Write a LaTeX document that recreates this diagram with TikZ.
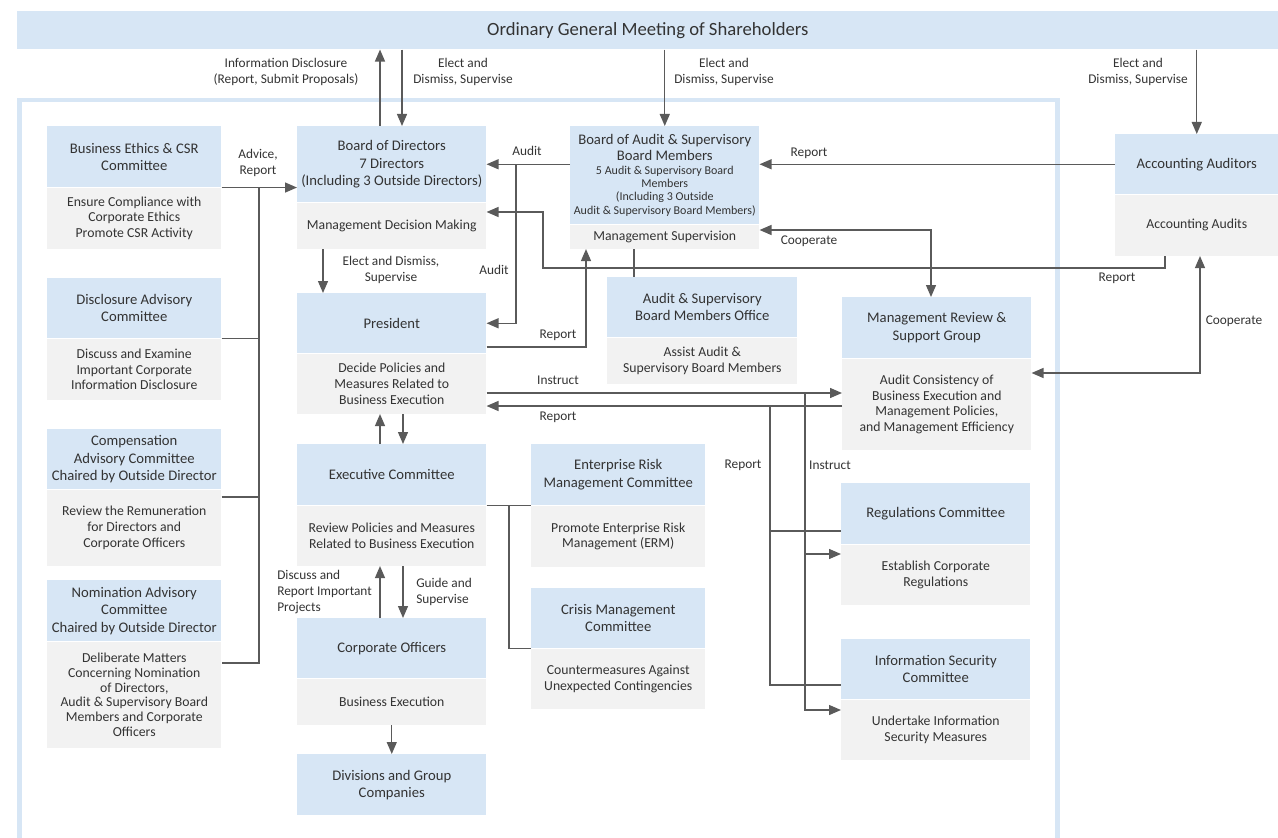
\documentclass[tikz,border=0pt]{standalone}
\usepackage{fontspec}
\setmainfont{Carlito}
\usetikzlibrary{arrows.meta,positioning}
\definecolor{azul}{HTML}{D7E6F5}
\definecolor{gris}{HTML}{F2F2F2}
\definecolor{linea}{HTML}{5A5A5A}
\definecolor{texto}{HTML}{333333}
\newcommand\fhd{\fontsize{11}{13}\selectfont}
\newcommand\fbd{\fontsize{10.3}{11.8}\selectfont}
\newcommand\flb{\fontsize{10}{12}\selectfont}
\newcommand\fsm{\fontsize{9}{10}\selectfont}
\tikzset{
    hd/.style 2 args={fill=azul, text=texto, font=\fhd, align=center, inner sep=0pt, anchor=north west, minimum width=#1*0.75pt, minimum height=#2*0.75pt},
    bd/.style 2 args={fill=gris, text=texto, font=\fbd, align=center, inner sep=0pt, minimum width=#1*0.75pt, minimum height=#2*0.75pt},
    lbl/.style={text=texto, font=\flb, align=center, inner sep=0pt},
    ln/.style={draw=linea, line width=1pt},
    arr/.style={ln, -{Triangle[length=9pt,width=7.5pt]}},
    dbl/.style={ln, {Triangle[length=9pt,width=7.5pt]}-{Triangle[length=9pt,width=7.5pt]}}
}
\begin{document}
\begin{tikzpicture}[x=0.75pt, y=-0.75pt]
    \useasboundingbox (0,0) rectangle (1278,838);
    \clip (0,0) rectangle (1278,838);

    % Marco de la empresa
    \draw[azul, line width=3.4pt] (19.5,100) rectangle (1057.5,900);

    % Junta de accionistas
    \node[hd={1261}{38}, font=\fontsize{14}{16}\selectfont] (meet) at (17,11) {Ordinary General Meeting of Shareholders};

    % Comites de la izquierda
    \node[hd={174}{61}] (ethicsH) at (47,126) {Business Ethics \& CSR\\Committee};
    \node[bd={174}{61}, below=0pt of ethicsH] (ethicsB) {Ensure Compliance with\\Corporate Ethics\\Promote CSR Activity};
    \node[hd={174}{60}] (discH) at (47,278) {Disclosure Advisory\\Committee};
    \node[bd={174}{61}, below=0pt of discH] (discB) {Discuss and Examine\\Important Corporate\\Information Disclosure};
    \node[hd={174}{60}] (compH) at (47,429) {Compensation\\Advisory Committee\\Chaired by Outside Director};
    \node[bd={174}{76}, below=0pt of compH] (compB) {Review the Remuneration\\for Directors and\\Corporate Officers};
    \node[hd={174}{61}] (nomH) at (47,580) {Nomination Advisory\\Committee\\Chaired by Outside Director};
    \node[bd={174}{106}, below=0pt of nomH, font=\fontsize{10.3}{11}\selectfont] (nomB) {Deliberate Matters\\Concerning Nomination\\of Directors,\\Audit \& Supervisory Board\\Members and Corporate\\Officers};

    % Columna central
    \node[hd={189}{76}] (bodH) at (297,126) {Board of Directors\\7 Directors\\(Including 3 Outside Directors)};
    \node[bd={189}{46}, below=0pt of bodH] (bodB) {Management Decision Making};
    \node[hd={189}{60}] (presH) at (297,293) {President};
    \node[bd={189}{60}, below=0pt of presH] (presB) {Decide Policies and\\Measures Related to\\Business Execution};
    \node[hd={189}{61}] (execH) at (297,444) {Executive Committee};
    \node[bd={189}{60}, below=0pt of execH] (execB) {Review Policies and Measures\\Related to Business Execution};
    \node[hd={189}{60}] (offH) at (297,618) {Corporate Officers};
    \node[bd={189}{46}, below=0pt of offH] (offB) {Business Execution};
    \node[hd={189}{61}] (divH) at (297,754) {Divisions and Group\\Companies};

    % Auditoria
    \node[hd={189}{98}] (boaH) at (570,126) {Board of Audit \& Supervisory\\[-1pt]Board Members\\[-3pt]{\fsm 5 Audit \& Supervisory Board}\\[-3pt]{\fsm Members}\\[-3pt]{\fsm (Including 3 Outside}\\[-3pt]{\fsm Audit \& Supervisory Board Members)}};
    \node[bd={189}{24}, below=0pt of boaH] (boaB) {Management Supervision};
    \node[hd={190}{60}] (officeH) at (607,277) {Audit \& Supervisory\\Board Members Office};
    \node[bd={190}{46}, below=0pt of officeH] (officeB) {Assist Audit \&\\Supervisory Board Members};
    \node[hd={163}{60}] (audH) at (1115,134) {Accounting Auditors};
    \node[bd={163}{61}, below=0pt of audH] (audB) {Accounting Audits};

    % Comites de la derecha
    \node[hd={174}{61}] (ermH) at (531,444) {Enterprise Risk\\Management Committee};
    \node[bd={174}{61}, below=0pt of ermH] (ermB) {Promote Enterprise Risk\\Management (ERM)};
    \node[hd={174}{60}] (crisisH) at (531,588) {Crisis Management\\Committee};
    \node[bd={174}{60}, below=0pt of crisisH] (crisisB) {Countermeasures Against\\Unexpected Contingencies};
    \node[hd={189}{61}] (reviewH) at (842,297) {Management Review \&\\Support Group};
    \node[bd={189}{91}, below=0pt of reviewH] (reviewB) {Audit Consistency of\\Business Execution and\\Management Policies,\\and Management Efficiency};
    \node[hd={189}{61}] (regsH) at (841,483) {Regulations Committee};
    \node[bd={189}{60}, below=0pt of regsH] (regsB) {Establish Corporate\\Regulations};
    \node[hd={189}{60}] (infoH) at (841,639) {Information Security\\Committee};
    \node[bd={189}{60}, below=0pt of infoH] (infoB) {Undertake Information\\Security Measures};

    % Flechas con la junta
    \draw[arr] (bodH.north -| 380,0) -- (meet.south -| 380,0);
    \draw[arr] (meet.south -| 402,0) -- (bodH.north -| 402,0);
    \draw[arr] (meet.south -| boaH.north) -- (boaH.north);
    \draw[arr] (meet.south -| audH.north) -- (audH.north);

    % Comites asesores
    \draw[arr] (ethicsH.south east) -- (bodH.west |- ethicsH.south east);
    \draw[ln] (259,0 |- ethicsH.south east) |- (nomB.east |- 0,663);
    \draw[ln] (discH.south east) -- (259,0 |- discH.south east);
    \draw[ln] (compB.east |- 0,497) -- (259,497);

    % Auditoria y consejo
    \draw[arr] (boaH.west |- bodH.east) -- (bodH.east);
    \draw[arr] (516,0 |- bodH.east) |- (presH.east);
    \draw[arr] (audH.west) -- (boaH.east |- audH.west);
    \draw[arr] (audB.south -| 1165,0) |- (543,268) |- (bodB.east |- 0,212);
    \draw[dbl] (boaB.east |- 0,230) -| (reviewH.north -| 931,0);
    \draw[ln] (boaB.south -| 634,0) -- (officeH.north -| 634,0);
    \draw[arr] (presH.east |- 0,347) -| (boaB.south -| 586,0);
    \draw[dbl] (reviewB.east |- 0,373) -| (audB.south -| 1200,0);

    % Linea de mando
    \draw[arr] (bodB.south -| 323,0) -- (presH.north -| 323,0);
    \draw[arr] (execH.north -| 380,0) -- (presB.south -| 380,0);
    \draw[arr] (presB.south -| 403,0) -- (execH.north -| 403,0);
    \draw[arr] (offH.north -| 380,0) -- (execB.south -| 380,0);
    \draw[arr] (execB.south -| 403,0) -- (offH.north -| 403,0);
    \draw[arr] (offB.south) -- (divH.north);

    % Comites de riesgo
    \draw[ln] (execH.south east) -- (ermH.south west);
    \draw[ln] (509,0 |- execH.south east) |- (crisisH.south west);

    % Instrucciones y reportes
    \draw[arr] (presB.east |- 0,393) -- (reviewB.west |- 0,393);
    \draw[arr] (reviewB.west |- 0,406) -- (presB.east |- 0,406);
    \draw[ln] (770,406) |- (infoH.west |- 0,685);
    \draw[ln] (770,531) -- (regsH.west |- 0,531);
    \draw[arr] (805,393) |- (infoB.west |- 0,710);
    \draw[arr] (805,554) -- (regsB.west |- 0,554);

    % Etiquetas
    \node[lbl] (tDisc) at (286,72) {Information Disclosure\\(Report, Submit Proposals)};
    \node[lbl] (tElectA) at (463,72) {Elect and\\Dismiss, Supervise};
    \node[lbl] (tElectB) at (724,72) {Elect and\\Dismiss, Supervise};
    \node[lbl] (tElectC) at (1138,72) {Elect and\\Dismiss, Supervise};
    \node[lbl] (tAdvice) at (258,163) {Advice,\\Report};
    \node[lbl] (tAuditA) at (527,151) {Audit};
    \node[lbl] (tRepA) at (809,153) {Report};
    \node[lbl] (tCoopA) at (809,241) {Cooperate};
    \node[lbl] (tElectP) at (391,270) {Elect and Dismiss,\\Supervise};
    \node[lbl] (tAuditB) at (494,270) {Audit};
    \node[lbl] (tRepB) at (1117,278) {Report};
    \node[lbl] (tCoopB) at (1234,321) {Cooperate};
    \node[lbl] (tRepC) at (558,335) {Report};
    \node[lbl] (tInsA) at (558,380) {Instruct};
    \node[lbl] (tRepD) at (558,417) {Report};
    \node[lbl] (tRepE) at (743,465) {Report};
    \node[lbl] (tInsB) at (830,465) {Instruct};
    \node[lbl, anchor=west, align=left] (tDiscuss) at (277,592) {Discuss and\\Report Important\\Projects};
    \node[lbl, anchor=west, align=left] (tGuide) at (416,592) {Guide and\\Supervise};
\end{tikzpicture}
\end{document}
